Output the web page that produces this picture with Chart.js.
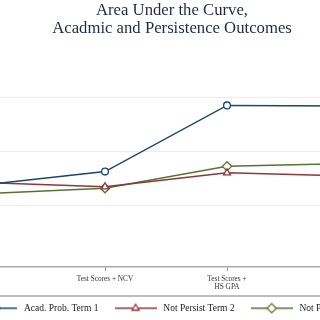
<!DOCTYPE html>
<html>
<head>
<meta charset="utf-8">
<script src="https://cdn.jsdelivr.net/npm/chart.js@4.4.1/dist/chart.umd.min.js"></script>
<style>
  html, body { margin: 0; padding: 0; background: #ffffff; overflow: hidden; width: 320px; height: 320px; }
  #wrap { position: absolute; left: -100px; top: 0; width: 544px; height: 320px; }
</style>
</head>
<body>
<div id="wrap"><canvas id="c" width="544" height="320"></canvas></div>
<script>
// ---- data ----
const categories = [
  ["Test Scores"],
  ["Test Scores + NCV"],
  ["Test Scores +", "HS GPA"],
  ["Test Scores +", "HS GPA + NCV"]
];
const seriesLabels = ["Acad. Prob. Term 1", "Not Persist Term 2", "Not Persist Term 3"];
const acadProbTerm1   = [0.6375, 0.6623, 0.7855, 0.7845];
const notPersistTerm2 = [0.6420, 0.6340, 0.6600, 0.6540];
const notPersistTerm3 = [0.6210, 0.6315, 0.6720, 0.6775];
const yTicks = [0.6, 0.7, 0.8];
const titleLines = ["Area Under the Curve,", "Acadmic and Persistence Outcomes"];

// ---- styles ----
const colors = ["#1a476f", "#90353b", "#55752f"];
const shapes = ["circle", "triangle", "rectRot"];
const radii = [3.4, 4, 4.6];
const FONT = "'Liberation Serif', 'Times New Roman', serif";

function toPoints(arr) { return arr.map((v, i) => ({ x: i, y: v })); }

function makeIcon(color, shape, r) {
  const cv = document.createElement('canvas');
  cv.width = 42; cv.height = 12;
  const g = cv.getContext('2d');
  g.strokeStyle = color; g.lineWidth = 1.5;
  g.beginPath(); g.moveTo(0, 6); g.lineTo(42, 6); g.stroke();
  g.fillStyle = '#ffffff'; g.lineWidth = 1.3;
  g.beginPath();
  if (shape === 'circle') { g.arc(21, 6, r, 0, Math.PI * 2); }
  else if (shape === 'triangle') { g.moveTo(21, 6 - r); g.lineTo(21 + r * 0.87, 6 + r * 0.5); g.lineTo(21 - r * 0.87, 6 + r * 0.5); g.closePath(); }
  else { g.moveTo(21, 6 - r); g.lineTo(21 + r, 6); g.lineTo(21, 6 + r); g.lineTo(21 - r, 6); g.closePath(); }
  g.fill(); g.stroke();
  return cv;
}
const icons = colors.map((c, i) => makeIcon(c, shapes[i], radii[i]));

const seriesData = [acadProbTerm1, notPersistTerm2, notPersistTerm3];
const datasets = seriesData.map((arr, i) => ({
  label: seriesLabels[i],
  data: toPoints(arr),
  borderColor: colors[i],
  borderWidth: 1.5,
  pointStyle: shapes[i],
  pointRadius: radii[i],
  pointBorderWidth: 1.3,
  pointBackgroundColor: '#ffffff',
  pointBorderColor: colors[i],
  tension: 0,
  fill: false
}));

const legendBox = {
  id: 'legendBox',
  afterDraw(chart) {
    const lg = chart.legend;
    if (!lg) return;
    const ctx = chart.ctx;
    ctx.save();
    ctx.strokeStyle = '#a9a9a9';
    ctx.lineWidth = 1.5;
    ctx.strokeRect(lg.left + 50, lg.top + 6.5, lg.width - 100, 60);
    ctx.restore();
  }
};

new Chart(document.getElementById('c'), {
  type: 'line',
  data: { datasets },
  plugins: [legendBox],
  options: {
    responsive: false,
    animation: false,
    devicePixelRatio: 1,
    layout: { padding: { top: 0, left: 0, right: 0, bottom: -3 } },
    plugins: {
      title: {
        display: true,
        text: titleLines,
        color: '#1f2b44',
        font: { family: FONT, size: 16.7, weight: 'normal', lineHeight: 1.08 },
        padding: { top: 2, bottom: 5.8 }
      },
      legend: {
        display: true,
        position: 'bottom',
        labels: {
          usePointStyle: true,
          pointStyleWidth: 46,
          padding: 14,
          color: '#222222',
          font: { family: FONT, size: 9.5 },
          generateLabels: (chart) => chart.data.datasets.map((ds, i) => ({
            text: ds.label, pointStyle: icons[i], datasetIndex: i, hidden: false,
            lineWidth: 0, strokeStyle: 'transparent', fillStyle: 'transparent', fontColor: '#222222'
          }))
        }
      },
      tooltip: { enabled: false }
    },
    scales: {
      x: {
        type: 'linear',
        min: -0.5984,
        max: 3.7303,
        afterBuildTicks: (s) => { s.ticks = categories.map((c, i) => ({ value: i })); },
        afterFit: (s) => { s.height = 22.5; },
        ticks: {
          autoSkip: false, maxRotation: 0, padding: 4,
          color: '#333333',
          font: { family: FONT, size: 7.3, lineHeight: 1.1 },
          callback: (v) => categories[v]
        },
        grid: { drawOnChartArea: false, drawTicks: true, tickLength: 4, color: '#9a9a9a', lineWidth: 1 },
        border: { display: true, color: '#a9a9a9', width: 1.5 }
      },
      y: {
        min: 0.4847,
        max: 0.9,
        afterBuildTicks: (s) => { s.ticks = yTicks.map(v => ({ value: v })); },
        afterFit: (s) => { s.width = 10; },
        ticks: { display: false },
        grid: { color: '#ececec', lineWidth: 1, drawTicks: false },
        border: { display: false }
      }
    }
  }
});
</script>
</body>
</html>
